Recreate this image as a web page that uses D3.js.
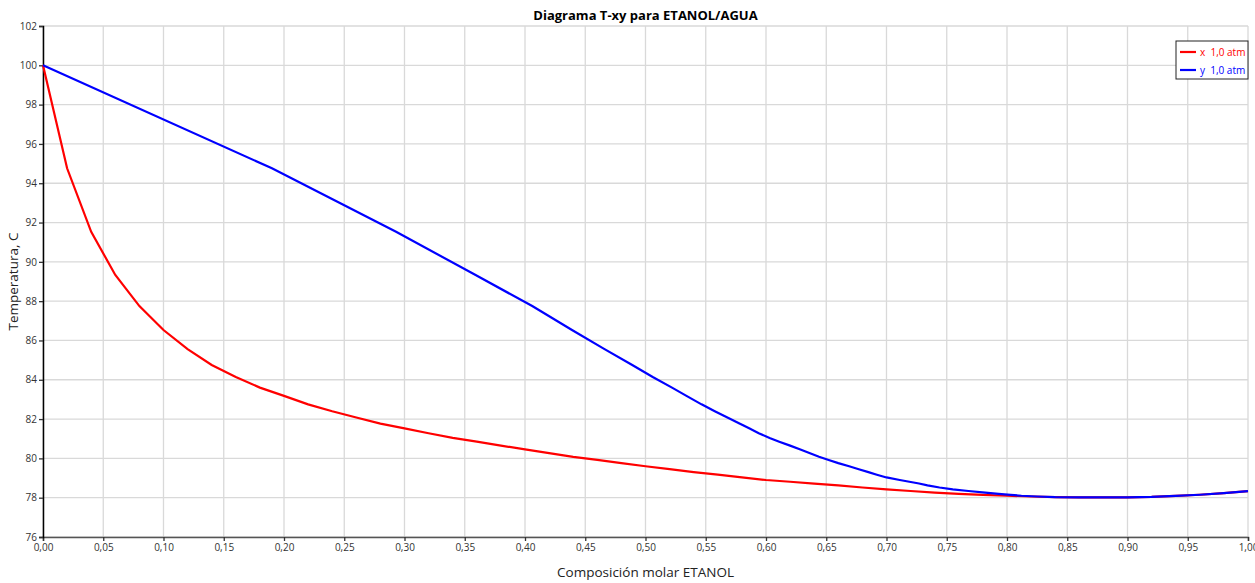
<!DOCTYPE html>
<html>
<head>
<meta charset="utf-8">
<script src="https://cdn.jsdelivr.net/npm/d3@7"></script>
<style>
  body { margin: 0; background: #fff; }
  svg { display: block; font-family: "Open Sans", "Noto Sans", sans-serif; }
</style>
</head>
<body>
<svg id="chart" width="1255" height="583"></svg>
<script>
// Liquid composition (x) of ETANOL
const liquidX = [0,0.02,0.04,0.06,0.08,0.10,0.12,0.14,0.16,0.18,0.20,0.22,0.24,0.26,0.28,0.30,0.32,0.34,0.36,0.38,0.40,0.42,0.44,0.46,0.48,0.50,0.52,0.54,0.56,0.58,0.60,0.62,0.64,0.66,0.68,0.70,0.72,0.74,0.76,0.78,0.80,0.82,0.84,0.86,0.88,0.90,0.92,0.94,0.96,0.98,1.00];
// Vapor composition (y) of ETANOL in equilibrium
const vaporY = [0,0.19,0.293,0.359,0.406,0.439,0.466,0.489,0.506,0.522,0.534,0.5465,0.5575,0.568,0.578,0.586,0.594,0.603,0.611,0.62,0.628,0.636,0.644,0.652,0.66,0.669,0.677,0.685,0.692,0.70,0.711,0.719,0.727,0.734,0.744,0.755,0.768,0.782,0.793,0.803,0.812,0.825,0.84,0.86,0.88,0.90,0.92,0.94,0.96,0.98,1.00];
// Temperature (C)
const temperature = [100,94.76,91.53,89.33,87.75,86.53,85.56,84.75,84.14,83.6,83.18,82.75,82.4,82.08,81.77,81.53,81.28,81.04,80.85,80.65,80.46,80.27,80.08,79.92,79.76,79.6,79.45,79.3,79.17,79.03,78.9,78.81,78.72,78.63,78.52,78.42,78.34,78.26,78.19,78.14,78.1,78.06,78.03,78.02,78.02,78.02,78.04,78.09,78.15,78.23,78.33];

const xTicks = [0,0.05,0.10,0.15,0.20,0.25,0.30,0.35,0.40,0.45,0.50,0.55,0.60,0.65,0.70,0.75,0.80,0.85,0.90,0.95,1.00];
const yTicks = [76,78,80,82,84,86,88,90,92,94,96,98,100,102];
const seriesNames = ["x  1,0 atm", "y  1,0 atm"];
const seriesColors = ["#ff0000", "#0000ff"];

const margin = {left: 43, right: 7, top: 26, bottom: 46};
const W = 1255, H = 583;
const svg = d3.select("#chart");

const x = d3.scaleLinear().domain([0, 1]).range([margin.left, W - margin.right]);
const y = d3.scaleLinear().domain([76, 102]).range([H - margin.bottom, margin.top]);

const fmt = d => d3.format(".2f")(d).replace(".", ",");

// gridlines
const grid = svg.append("g");
grid.selectAll("line.v").data(xTicks).join("line")
  .attr("x1", d => x(d)).attr("x2", d => x(d))
  .attr("y1", y(76)).attr("y2", y(102))
  .attr("stroke", "#d9d9d9").attr("stroke-width", 1.3);
grid.selectAll("line.h").data(yTicks).join("line")
  .attr("x1", x(0)).attr("x2", x(1))
  .attr("y1", d => y(d)).attr("y2", d => y(d))
  .attr("stroke", "#d9d9d9").attr("stroke-width", 1.3);

// axes
const xAxis = svg.append("g").attr("transform", `translate(0,${y(76)})`)
  .call(d3.axisBottom(x).tickValues(xTicks).tickFormat(fmt).tickSize(4).tickPadding(3));
const yAxis = svg.append("g").attr("transform", `translate(${x(0)},0)`)
  .call(d3.axisLeft(y).tickValues(yTicks).tickSize(4).tickPadding(2));
xAxis.select(".domain").attr("stroke", "#555").attr("stroke-width", 1.5);
yAxis.select(".domain").attr("stroke", "#000").attr("stroke-width", 1.5);
[xAxis, yAxis].forEach(a => {
  a.selectAll(".tick line").attr("stroke", "#333").attr("stroke-width", 1.3);
  a.selectAll(".tick text").attr("fill", "#333").style("font-size", "10px")
    .style("font-family", "'Open Sans', 'Noto Sans', sans-serif");
});

// lines
const liquid = liquidX.map((v, i) => [v, temperature[i]]);
const vapor = vaporY.map((v, i) => [v, temperature[i]]);
const line = d3.line().x(d => x(d[0])).y(d => y(d[1]));
svg.append("path").datum(liquid).attr("d", line)
  .attr("fill", "none").attr("stroke", seriesColors[0]).attr("stroke-width", 2.2);
svg.append("path").datum(vapor).attr("d", line)
  .attr("fill", "none").attr("stroke", seriesColors[1]).attr("stroke-width", 2.2);

// title & axis labels
svg.append("text").attr("x", (x(0) + x(1)) / 2).attr("y", 20)
  .attr("text-anchor", "middle").style("font-size", "13px").style("font-weight", "bold")
  .attr("fill", "#000").text("Diagrama T-xy para ETANOL/AGUA");
svg.append("text").attr("x", (x(0) + x(1)) / 2).attr("y", 577)
  .attr("text-anchor", "middle").style("font-size", "13.5px").attr("fill", "#222")
  .text("Composición molar ETANOL");
svg.append("text").attr("transform", `translate(18,${(y(76) + y(102)) / 2}) rotate(-90)`)
  .attr("text-anchor", "middle").style("font-size", "13.5px").attr("fill", "#222")
  .text("Temperatura, C");

// legend
const lg = svg.append("g").attr("transform", "translate(1176,41)");
lg.append("rect").attr("width", 72).attr("height", 38)
  .attr("fill", "#fff").attr("stroke", "#222").attr("stroke-width", 1);
seriesNames.forEach((n, i) => {
  const yy = 11 + i * 18;
  lg.append("line").attr("x1", 4).attr("x2", 20).attr("y1", yy).attr("y2", yy)
    .attr("stroke", seriesColors[i]).attr("stroke-width", 2.2);
  lg.append("text").attr("x", 24).attr("y", yy + 3.5).style("font-size", "10px")
    .style("white-space", "pre").attr("xml:space", "preserve")
    .attr("fill", seriesColors[i]).text(n);
});
</script>
</body>
</html>
